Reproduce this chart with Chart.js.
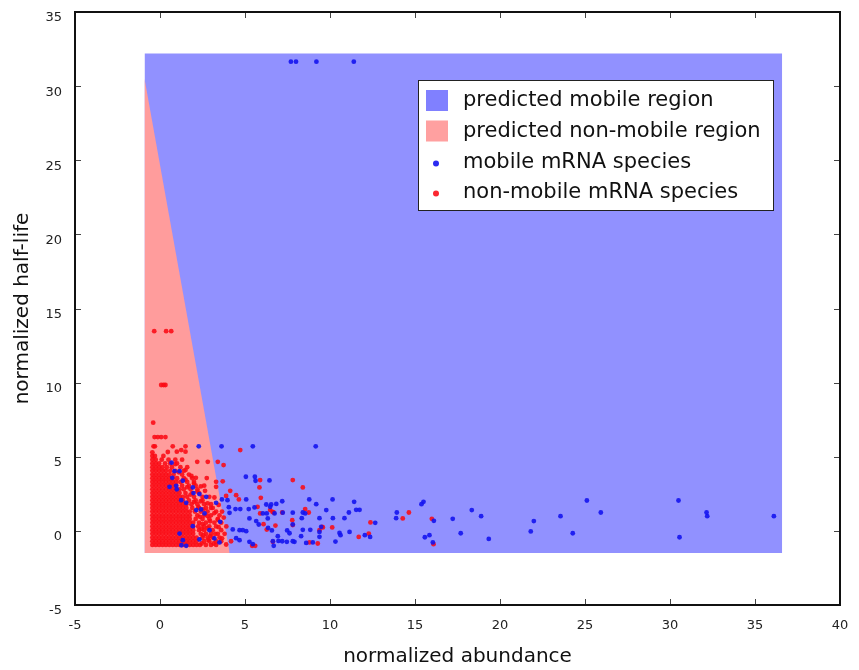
<!DOCTYPE html>
<html>
<head>
<meta charset="utf-8">
<script src="https://cdn.jsdelivr.net/npm/chart.js@4.4.0/dist/chart.umd.min.js"></script>
<style>
  html, body { margin: 0; padding: 0; background: #fff; }
  canvas { display: block; }
</style>
</head>
<body>
<canvas id="grafico" width="859" height="670"></canvas>
<script>
// ejes
const xTickValues = [-5, 0, 5, 10, 15, 20, 25, 30, 35, 40];
const yTickValues = [-5, 0, 5, 10, 15, 20, 25, 30, 35];
const xTitle = 'normalized abundance';
const yTitle = 'normalized half-life';

// regiones predichas (borde superior, se rellena hasta regionBase)
const regionBase = -1.5;
const mobileRegionX = [-0.91, 36.6];
const mobileRegionY = [32.2, 32.2];
const nonMobileRegionX = [-0.91, 4.1];
const nonMobileRegionY = [30.5, -1.5];

const legendLabels = ['predicted mobile region', 'predicted non-mobile region', 'mobile mRNA species', 'non-mobile mRNA species'];

// puntos moviles [x, y]
const mobilePoints = [
  [7.7,31.65],[8.0,31.65],[9.2,31.65],[11.4,31.65],
  [2.28,5.7],[3.62,5.7],[5.46,5.7],[9.16,5.7],
  [0.68,4.6],[0.85,4.03],[1.15,4.03],
  [5.05,3.65],[5.58,3.65],[5.62,3.38],[6.44,3.4],[1.34,3.38],
  [0.56,2.97],[0.95,3.04],[0.72,3.58],[1.93,2.93],[0.99,2.8],
  [1.97,2.55],[2.32,2.48],[2.72,2.3],
  [3.64,2.12],[3.97,2.07],[5.07,2.12],[1.25,2.07],[1.54,1.89],[3.3,1.89],
  [7.19,2.0],[8.78,2.12],[10.15,2.12],[11.42,1.96],[11.54,1.42],[11.74,1.42],[13.93,1.24],[13.89,0.86],
  [6.25,1.78],[6.54,1.78],[6.84,1.82],[9.19,1.8],
  [4.44,1.47],[4.72,1.47],[5.22,1.47],[5.56,1.58],[4.05,1.6],[4.09,1.22],[2.42,1.45],[2.62,1.18],[2.13,1.4],
  [8.4,1.24],[8.54,1.18],[9.78,1.4],[7.81,1.23],[7.22,1.23],[6.48,1.62],
  [6.05,1.18],[6.28,1.18],[6.74,1.18],[6.34,0.84],
  [10.17,0.86],[10.85,0.86],[11.11,1.24],[8.34,0.86],[9.38,0.86],
  [5.26,0.84],[5.66,0.66],[5.81,0.43],[6.36,0.2],[3.54,0.61],[1.93,0.32],[7.81,0.43],[12.66,0.54],
  [4.28,0.1],[4.68,0.05],[4.87,0.05],[5.07,-0.02],[2.91,0.05],[1.15,-0.18],[6.58,0.03],
  [7.48,0.03],[7.62,-0.16],[8.4,0.07],[8.84,0.07],[9.38,-0.07],[9.48,0.27],
  [10.56,-0.14],[10.62,-0.29],[10.32,-0.72],[11.15,-0.07],[12.05,-0.29],[12.36,-0.41],
  [6.93,-0.36],[6.64,-0.7],[6.69,-1.01],[7.19,-0.7],[7.46,-0.74],[7.91,-0.74],
  [6.97,-0.68],[7.81,-0.7],[8.3,-0.36],[8.6,-0.81],
  [4.48,-0.49],[4.68,-0.63],[5.26,-0.74],[5.46,-0.9],
  [3.5,-0.78],[3.2,-0.51],[1.26,-0.97],[1.54,-1.01],[1.34,-0.63],[2.32,-0.58],
  [8.99,-0.78],[9.38,-0.4],
  [15.5,1.96],[15.38,1.8],[15.58,-0.43],[15.85,-0.29],[16.05,-0.78],[16.11,0.68],[17.22,0.81],
  [17.69,-0.16],[18.34,1.4],[18.89,0.99],[19.34,-0.54],[21.81,-0.04],[21.99,0.66],[23.56,0.99],
  [24.28,-0.16],[25.11,2.05],[25.93,1.24],[30.5,2.05],[30.56,-0.43],[32.15,1.24],[32.19,0.99],[36.11,0.99]
];

// puntos no moviles sueltos [x, y]
const nonMobilePoints = [
  [-0.34,13.47],[0.36,13.47],[0.66,13.47],[0.07,9.84],[0.21,9.84],[0.32,9.84],[-0.4,7.3],
  [-0.32,6.33],[-0.13,6.33],[0.07,6.33],[0.32,6.33],
  [-0.38,5.7],[-0.3,5.7],[0.75,5.7],[1.5,5.7],
  [4.72,5.45],[1.25,5.45],[0.99,5.34],[0.46,5.32],[1.5,5.34],
  [2.19,4.66],[2.81,4.66],[3.4,4.66],[3.74,4.44],
  [2.75,3.56],[3.3,3.31],[3.69,3.34],[2.11,3.58],
  [5.89,3.43],[5.85,2.93],[7.81,3.43],[8.4,2.93],
  [3.3,2.97],[4.13,2.7],[3.89,2.36],[4.48,2.41],[4.64,2.12],
  [5.93,2.23],[5.74,1.62],[5.89,1.18],[6.48,1.4],[6.62,1.28],[7.19,1.24],[7.78,0.72],[7.81,0.39],
  [8.54,1.47],[8.75,1.24],[9.54,0.27],[9.38,0.05],[10.13,0.23],[11.69,-0.41],[12.28,-0.18],[12.38,0.57],
  [8.79,-0.78],[9.28,-0.85],[6.64,-0.74],[5.42,-1.01],[5.6,-1.01],[4.18,-0.7],[3.89,-0.92],
  [9.58,0.23],[6.79,0.36],[6.28,0.09],[6.09,0.45],[6.68,1.24],
  [14.28,0.84],[14.64,1.24],[15.99,0.81],[16.09,-0.9],
  [2.45,-0.85],[2.85,-0.6],[3.15,-0.85],[2.55,-0.3],[2.95,-0.35],[3.25,-0.2],[3.65,-0.5],
  [2.45,0.15],[2.8,0.2],[3.45,0.25],[2.5,0.45],[2.95,0.65],[3.4,0.75],[3.75,0.9],
  [2.35,0.95],[2.8,1.0],[3.2,1.2],[3.65,1.3],[2.25,1.6],[2.55,1.45],[3.0,1.55],[3.45,1.75],
  [2.0,1.95],[2.4,2.0],[2.8,1.85],[3.2,2.25],[1.8,2.45],[2.2,2.65],[2.65,2.7],
  [1.6,2.95],[2.0,3.2],[2.4,3.0],[1.5,3.45],[1.85,3.7],[1.1,3.95],[1.5,4.1],[0.9,4.5],[1.3,4.8]
];

// nucleo denso de puntos no moviles, por filas: [y, [x...]]
const nonMobileCoreRows = [
  [-0.95, [-0.45,-0.25,-0.05,0.15,0.35,0.55,0.75,0.95,1.15,1.35,1.55,1.75,1.95,2.15,2.35,2.7,3.0,3.3]],
  [-0.7,  [-0.45,-0.25,-0.05,0.15,0.35,0.55,0.75,0.95,1.15,1.35,1.55,1.75,1.95,2.15,2.6,2.9,3.3,3.6]],
  [-0.45, [-0.45,-0.25,-0.05,0.15,0.35,0.55,0.75,0.95,1.15,1.35,1.55,1.75,1.95,2.15,2.5,2.8,3.1,3.5]],
  [-0.2,  [-0.45,-0.25,-0.05,0.15,0.35,0.55,0.75,0.95,1.15,1.35,1.55,1.75,1.95,2.4,2.7,3.0,3.4,3.8]],
  [0.05,  [-0.45,-0.25,-0.05,0.15,0.35,0.55,0.75,0.95,1.15,1.35,1.55,1.75,1.95,2.3,2.6,3.1,3.6]],
  [0.3,   [-0.45,-0.25,-0.05,0.15,0.35,0.55,0.75,0.95,1.15,1.35,1.55,1.75,1.95,2.25,2.6,2.9,3.3,3.9]],
  [0.55,  [-0.45,-0.25,-0.05,0.15,0.35,0.55,0.75,0.95,1.15,1.35,1.55,1.75,1.95,2.3,2.7,3.2,3.6]],
  [0.8,   [-0.45,-0.25,-0.05,0.15,0.35,0.55,0.75,0.95,1.15,1.35,1.55,1.75,2.1,2.5,2.9,3.4]],
  [1.05,  [-0.45,-0.25,-0.05,0.15,0.35,0.55,0.75,0.95,1.15,1.35,1.55,1.75,2.2,2.6,3.0,3.5]],
  [1.3,   [-0.45,-0.25,-0.05,0.15,0.35,0.55,0.75,0.95,1.15,1.35,1.55,1.75,2.05,2.4,2.8,3.3]],
  [1.55,  [-0.45,-0.25,-0.05,0.15,0.35,0.55,0.75,0.95,1.15,1.35,1.55,1.9,2.3,2.7,3.1]],
  [1.8,   [-0.45,-0.25,-0.05,0.15,0.35,0.55,0.75,0.95,1.15,1.35,1.55,1.85,2.2,2.6,3.0]],
  [2.05,  [-0.45,-0.25,-0.05,0.15,0.35,0.55,0.75,0.95,1.15,1.35,1.7,2.1,2.5]],
  [2.3,   [-0.45,-0.25,-0.05,0.15,0.35,0.55,0.75,0.95,1.15,1.35,1.6,2.0,2.5,2.9]],
  [2.55,  [-0.45,-0.25,-0.05,0.15,0.35,0.55,0.75,0.95,1.15,1.5,1.9,2.3]],
  [2.8,   [-0.45,-0.25,-0.05,0.15,0.35,0.55,0.75,0.95,1.15,1.4,1.8,2.2]],
  [3.05,  [-0.45,-0.25,-0.05,0.15,0.35,0.55,0.75,0.95,1.3,1.7,2.1,2.6]],
  [3.3,   [-0.45,-0.25,-0.05,0.15,0.35,0.55,0.75,0.95,1.2,1.6,2.0]],
  [3.55,  [-0.45,-0.25,-0.05,0.15,0.35,0.55,0.75,1.0,1.4,1.9]],
  [3.8,   [-0.45,-0.25,-0.05,0.15,0.35,0.55,0.8,1.3,1.7]],
  [4.05,  [-0.45,-0.25,-0.05,0.15,0.35,0.6,0.9,1.4]],
  [4.3,   [-0.45,-0.25,-0.05,0.15,0.4,0.7,1.2,1.6]],
  [4.55,  [-0.45,-0.25,-0.05,0.3,0.6,1.0]],
  [4.8,   [-0.45,-0.25,0.1,0.5,0.9]],
  [5.05,  [-0.45,-0.3,0.2]],
  [5.3,   [-0.45]]
];

const toXY = ([x, y]) => ({ x, y });
const mobileData = mobilePoints.map(toXY);
const nonMobileData = nonMobilePoints.map(toXY)
  .concat(nonMobileCoreRows.flatMap(([y, xs]) => xs.map(x => ({ x, y }))));
const mobileRegionData = mobileRegionX.map((x, i) => ({ x, y: mobileRegionY[i] }));
const nonMobileRegionData = nonMobileRegionX.map((x, i) => ({ x, y: nonMobileRegionY[i] }));

Chart.defaults.font.family = "'DejaVu Sans', sans-serif";
Chart.defaults.color = '#222';

// marco y marcas de los ejes hacia adentro (todos los lados)
const marcoEjes = {
  id: 'marcoEjes',
  afterDatasetsDraw(chart) {
    const { ctx, chartArea: a, scales: { x, y } } = chart;
    const largo = 6;
    ctx.save();
    ctx.strokeStyle = '#444';
    ctx.lineWidth = 1;
    ctx.beginPath();
    xTickValues.slice(1, -1).forEach(v => {
      const px = Math.round(x.getPixelForValue(v)) + 0.5;
      ctx.moveTo(px, a.bottom); ctx.lineTo(px, a.bottom - largo);
      ctx.moveTo(px, a.top); ctx.lineTo(px, a.top + largo);
    });
    yTickValues.slice(1, -1).forEach(v => {
      const py = Math.round(y.getPixelForValue(v)) + 0.5;
      ctx.moveTo(a.left, py); ctx.lineTo(a.left + largo, py);
      ctx.moveTo(a.right, py); ctx.lineTo(a.right - largo, py);
    });
    ctx.stroke();
    ctx.strokeStyle = '#111';
    ctx.lineWidth = 2;
    ctx.strokeRect(a.left, a.top, a.width, a.height);
    ctx.restore();
  }
};

// leyenda dentro del area del grafico
const leyenda = {
  id: 'leyenda',
  afterDraw(chart) {
    const { ctx, chartArea: a } = chart;
    const bx = a.left + 343, by = a.top + 68, bw = 355, bh = 130;
    const filas = [a.top + 89, a.top + 119.5, a.top + 150.5, a.top + 180.5];
    ctx.save();
    ctx.fillStyle = '#fff';
    ctx.fillRect(bx, by, bw, bh);
    ctx.strokeStyle = '#222';
    ctx.lineWidth = 1;
    ctx.strokeRect(bx + 0.5, by + 0.5, bw, bh);
    const ds = chart.data.datasets;
    ctx.font = "21px 'DejaVu Sans'";
    ctx.textBaseline = 'middle';
    ctx.textAlign = 'left';
    legendLabels.forEach((txt, i) => {
      const yc = filas[i];
      if (i < 2) {
        ctx.fillStyle = i === 0 ? '#8080ff' : '#ffa0a0';
        ctx.fillRect(bx + 8, yc - 11, 22, 21);
      } else {
        ctx.fillStyle = ds[i].backgroundColor;
        ctx.beginPath();
        ctx.arc(bx + 18, yc + 1, 3, 0, Math.PI * 2);
        ctx.fill();
      }
      ctx.fillStyle = '#111';
      ctx.fillText(txt, bx + 45, yc);
    });
    ctx.restore();
  }
};

// sin relleno extra por las etiquetas de los extremos
const sinRellenoEtiquetas = (s) => {
  s.paddingTop = 0; s.paddingBottom = 0; s.paddingLeft = 0; s.paddingRight = 0;
};

new Chart(document.getElementById('grafico'), {
  type: 'scatter',
  data: {
    datasets: [
      {
        label: legendLabels[0],
        data: mobileRegionData,
        showLine: true,
        borderWidth: 0,
        pointRadius: 0,
        backgroundColor: '#9191ff',
        fill: { value: regionBase },
        order: 4
      },
      {
        label: legendLabels[1],
        data: nonMobileRegionData,
        showLine: true,
        borderWidth: 0,
        pointRadius: 0,
        backgroundColor: '#ff9c9c',
        fill: { value: regionBase },
        order: 3
      },
      {
        label: legendLabels[2],
        data: mobileData,
        pointRadius: 2.4,
        borderWidth: 0,
        backgroundColor: 'rgba(20, 20, 240, 0.9)',
        order: 1
      },
      {
        label: legendLabels[3],
        data: nonMobileData,
        pointRadius: 2.4,
        borderWidth: 0,
        backgroundColor: 'rgba(250, 10, 20, 0.88)',
        order: 2
      }
    ]
  },
  options: {
    responsive: false,
    animation: false,
    devicePixelRatio: 1,
    layout: { padding: { top: 12, right: 19, left: 0, bottom: 0 } },
    plugins: {
      legend: { display: false },
      tooltip: { enabled: false }
    },
    scales: {
      x: {
        type: 'linear',
        min: -5,
        max: 40,
        afterBuildTicks: (s) => { s.ticks = xTickValues.map(v => ({ value: v })); },
        afterFit: (s) => { s.height = 65; sinRellenoEtiquetas(s); },
        grid: { display: false, drawTicks: false },
        border: { display: false },
        ticks: { font: { size: 13 }, color: '#222', padding: 13, maxRotation: 0 },
        title: { display: true, text: xTitle, font: { size: 20 }, color: '#111', padding: { top: 0, bottom: 1 } }
      },
      y: {
        type: 'linear',
        min: -5,
        max: 35,
        afterBuildTicks: (s) => { s.ticks = yTickValues.map(v => ({ value: v })); },
        afterFit: (s) => { s.width = 75; sinRellenoEtiquetas(s); },
        grid: { display: false, drawTicks: false },
        border: { display: false },
        ticks: { font: { size: 13 }, color: '#222', padding: 13, labelOffset: 6 },
        title: { display: true, text: yTitle, font: { size: 20 }, color: '#111', padding: { top: 11, bottom: 0 } }
      }
    }
  },
  plugins: [marcoEjes, leyenda]
});
</script>
</body>
</html>
